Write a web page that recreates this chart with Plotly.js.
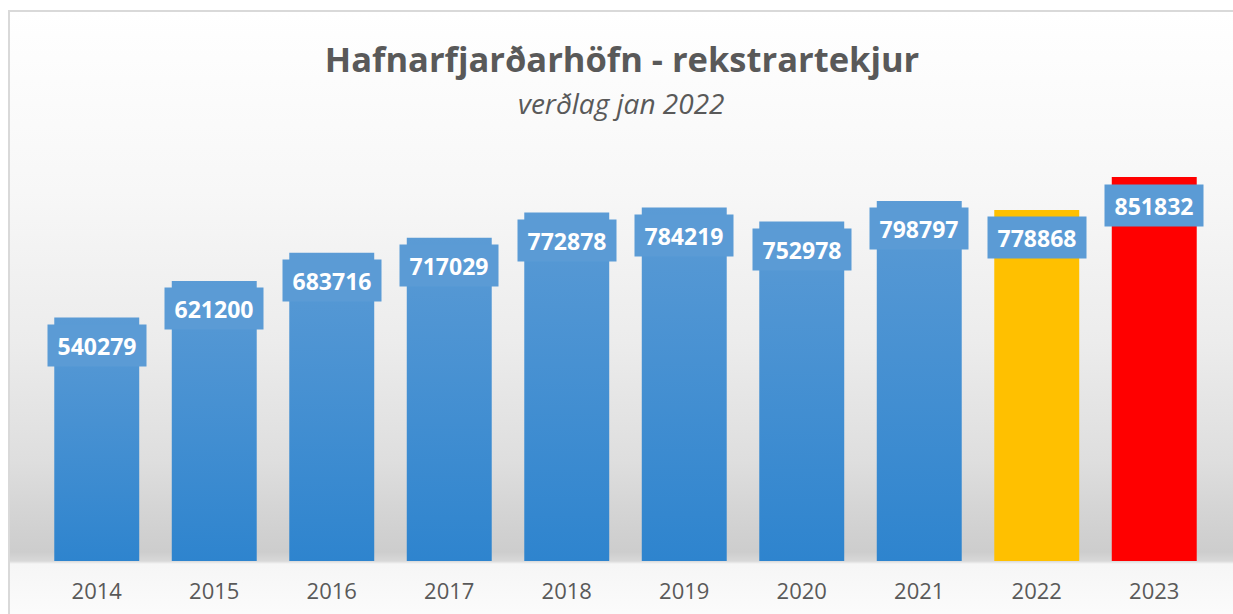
<!DOCTYPE html>
<html>
<head>
<meta charset="utf-8">
<script src="https://cdn.plot.ly/plotly-3.0.1.min.js"></script>
<style>
  html, body { margin: 0; padding: 0; background: #ffffff; width: 1233px; height: 614px; overflow: hidden; }
  #frame {
    position: absolute; left: 8px; top: 10px; width: 1230px; height: 610px;
    border-top: 2px solid #d9d9d9; border-left: 2px solid #d9d9d9;
    background: linear-gradient(to bottom,
      #ffffff 0px, #f7f7f7 180px, #ececec 330px, #dedede 450px,
      #d4d4d4 500px, #cdcdcd 540px, #d8d8d8 549px, #f6f6f6 552px, #fbfbfb 600px);
  }
  #chart { position: absolute; left: 0; top: 0; width: 1233px; height: 614px; }
</style>
</head>
<body>
<div id="frame"></div>
<div id="chart"></div>
<script>
const years = ['2014','2015','2016','2017','2018','2019','2020','2021','2022','2023'];
const revenue = [540279, 621200, 683716, 717029, 772878, 784219, 752978, 798797, 778868, 851832];
const barColors = ['#5B9BD5','#5B9BD5','#5B9BD5','#5B9BD5','#5B9BD5','#5B9BD5','#5B9BD5','#5B9BD5','#FFC000','#FF0000'];
const titleText = 'Hafnarfjarðarhöfn - rekstrartekjur';
const subtitleText = 'verðlag jan 2022';

const trace = {
  type: 'bar',
  x: years,
  y: revenue,
  marker: { color: barColors, line: { width: 0 } },
  hoverinfo: 'x+y'
};

const annotations = years.map((yr, i) => ({
  x: i, y: revenue[i], xref: 'x', yref: 'y',
  text: '<b>' + revenue[i] + '</b>',
  showarrow: false,
  yanchor: 'middle', yshift: -28,
  bgcolor: '#5B9BD5',
  width: 92, height: 35, borderpad: 3,
  font: { family: 'Open Sans, sans-serif', size: 23, color: '#ffffff' }
}));

annotations.push({
  xref: 'paper', yref: 'paper', x: 0.497, y: 1.088,
  text: '<i>' + subtitleText + '</i>', showarrow: false,
  xanchor: 'center', yanchor: 'middle',
  font: { family: 'Open Sans, sans-serif', size: 28, color: '#595959' }
});

const layout = {
  width: 1233, height: 614,
  margin: { l: 38, r: 20, t: 140, b: 53 },
  paper_bgcolor: 'rgba(0,0,0,0)',
  plot_bgcolor: 'rgba(0,0,0,0)',
  bargap: 0.277,
  showlegend: false,
  title: {
    text: '<b>' + titleText + '</b>',
    xref: 'container', yref: 'container',
    x: 0.5045, xanchor: 'center', y: 1 - 60/614, yanchor: 'middle',
    font: { family: 'Open Sans, sans-serif', size: 34.5, color: '#595959' }
  },
  xaxis: {
    type: 'category',
    range: [-0.5, years.length - 0.5],
    showgrid: false, zeroline: false, showline: false, ticks: '',
    ticklabelstandoff: 15,
    tickfont: { family: 'Open Sans, sans-serif', size: 22, color: '#595959' }
  },
  yaxis: {
    range: [0, 933900],
    visible: false, showgrid: false, zeroline: false
  },
  annotations: annotations
};

Plotly.newPlot('chart', [trace], layout, { displayModeBar: false, staticPlot: true }).then(gd => {
  const svg = gd.querySelector('svg.main-svg');
  const ns = 'http://www.w3.org/2000/svg';
  let defs = svg.querySelector('defs');
  if (!defs) { defs = document.createElementNS(ns, 'defs'); svg.insertBefore(defs, svg.firstChild); }
  const grad = document.createElementNS(ns, 'linearGradient');
  grad.setAttribute('id', 'blueGrad');
  grad.setAttribute('x1', '0'); grad.setAttribute('y1', '0');
  grad.setAttribute('x2', '0'); grad.setAttribute('y2', '1');
  [['0%', '#5B9BD5'], ['100%', '#2E84CE']].forEach(([o, c]) => {
    const s = document.createElementNS(ns, 'stop');
    s.setAttribute('offset', o); s.setAttribute('stop-color', c);
    grad.appendChild(s);
  });
  defs.appendChild(grad);
  gd.querySelectorAll('.bars .point path').forEach((p, i) => {
    if (barColors[i] === '#5B9BD5') p.style.fill = 'url(#blueGrad)';
  });
});
</script>
</body>
</html>
